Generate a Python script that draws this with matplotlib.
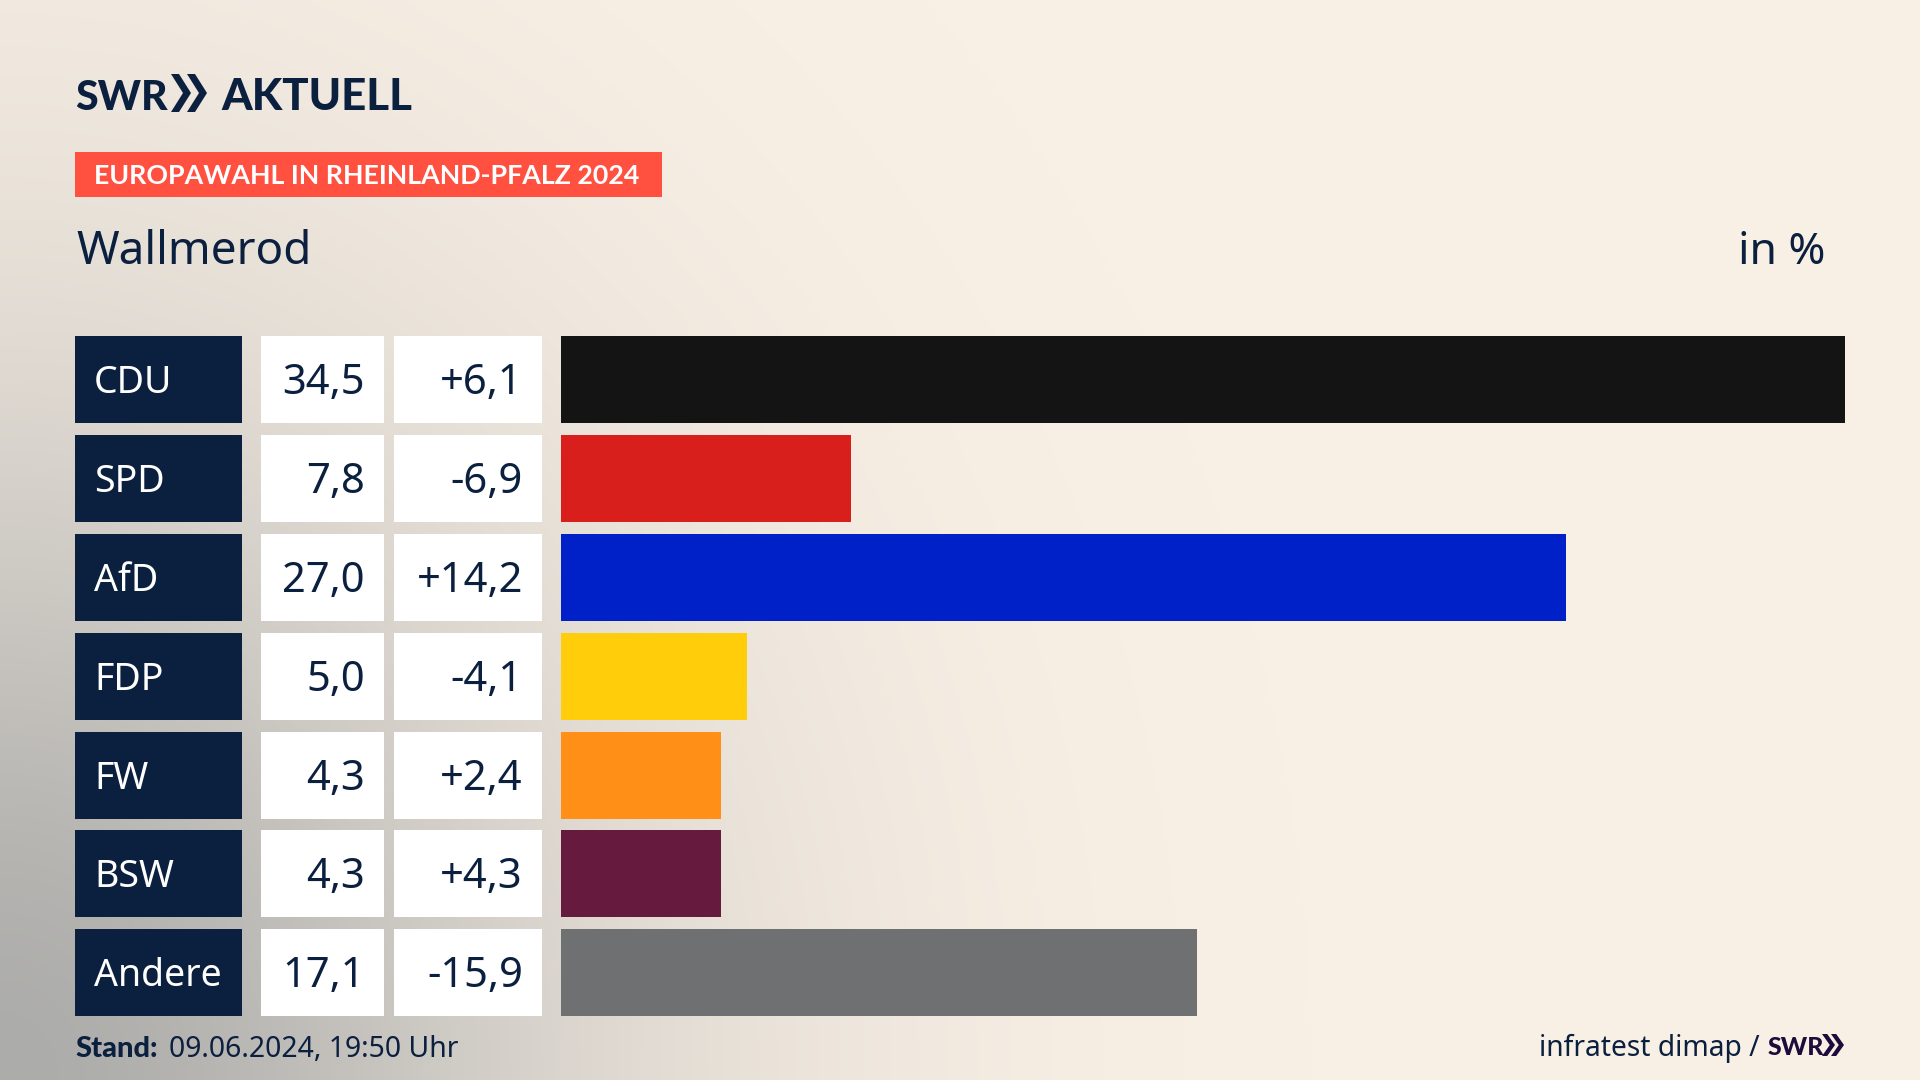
from matplotlib import pyplot as plt
from matplotlib.patches import Polygon
import numpy as np

parties = ["CDU", "SPD", "AfD", "FDP", "FW", "BSW", "Andere"]
shares = [34.5, 7.8, 27.0, 5.0, 4.3, 4.3, 17.1]
changes = [6.1, -6.9, 14.2, -4.1, 2.4, 4.3, -15.9]
colors = ["#141414", "#d81f1c", "#0021c7", "#ffcd0a", "#ff8f16", "#661a3e", "#6f7072"]

NAVY = "#0b1f3f"
W, H = 1920, 1080
plt.rcParams["font.family"] = ["Noto Sans", "DejaVu Sans"]


def de(v, sign=False):
    s = f"{v:+.1f}" if sign else f"{v:.1f}"
    return s.replace(".", ",")


def chevrons(ax, x, top, bottom, w, gap, color):
    # the two arrows of the SWR logo
    mid = (top + bottom) / 2
    for x0 in (x, x + gap):
        pts = [(x0, top), (x0 + w * 0.4, top), (x0 + w, mid), (x0 + w * 0.4, bottom), (x0, bottom), (x0 + w * 0.6, mid)]
        ax.add_patch(Polygon(pts, closed=True, color=color, lw=0))


fig = plt.figure(figsize=(W / 100, H / 100), dpi=100)

# page, background wash from the lower left corner
page = fig.add_axes([0, 0, 1, 1])
yy, xx = np.mgrid[0:H:270j, 0:W:480j]
r = np.sqrt(xx ** 2 + ((H - yy) * 0.86) ** 2)
a = np.exp(-(r / 600) ** 1.8)[..., None]
base = np.array([250, 241, 230]) / 255
gray = np.array([172, 172, 170]) / 255
page.imshow(base * (1 - a) + gray * a, extent=(0, W, H, 0), aspect="auto", interpolation="bilinear")
page.set_xlim(0, W)
page.set_ylim(H, 0)
page.axis("off")

# logo and headings
page.text(75, 110, "SWR", fontsize=29.5, fontweight=900, family="Lato", color=NAVY, va="baseline")
chevrons(page, 171, 74, 112, 20, 16, NAVY)
page.text(221, 110, "AKTUELL", fontsize=31.5, fontweight=900, family="Lato", color=NAVY, va="baseline")
page.fill_between([75, 662], 152, 197, color="#ff5040", lw=0)
page.text(94, 184, "EUROPAWAHL IN RHEINLAND-PFALZ 2024", fontsize=19.3, fontweight="bold", family="Lato", color="white", va="baseline")
page.text(76, 264.5, "Wallmerod", fontsize=33, color=NAVY, va="baseline")
page.text(1825, 264.5, "in %", fontsize=32, color=NAVY, va="baseline", ha="right")

# footer
page.text(75, 1057, "Stand:", fontsize=21, fontweight=900, family="Lato", color=NAVY, va="baseline")
page.text(169, 1057, "09.06.2024, 19:50 Uhr", fontsize=20.4, color=NAVY, va="baseline")
page.text(1539, 1056, "infratest dimap /", fontsize=20.3, color=NAVY, va="baseline")
page.text(1768, 1055, "SWR", fontsize=18, fontweight=900, family="Lato", color="#1f0a3c", va="baseline")
chevrons(page, 1822, 1034, 1056, 13, 9, "#1f0a3c")

# rows share one vertical scale, 98.95 px per party
y = np.arange(len(parties))
top_px, bottom_px = 329.8, 1022.4
ax_pos_y = 1 - bottom_px / H
ax_pos_h = (bottom_px - top_px) / H
px = (bottom_px - top_px) / len(parties)

cells = fig.add_axes([0, ax_pos_y, 1, ax_pos_h])
cells.patch.set_alpha(0)
cells.barh(y, [167] * len(y), left=75, height=87 / px, color=NAVY)
cells.barh(y, [123] * len(y), left=261, height=87 / px, color="white")
cells.barh(y, [148] * len(y), left=394, height=87 / px, color="white")
for i, party in enumerate(parties):
    base_y = i + 14.5 / px
    cells.text(94, base_y - 1 / px, party, fontsize=27, color="white", va="baseline")
    cells.text(365, base_y, de(shares[i]), fontsize=30, color=NAVY, va="baseline", ha="right")
    cells.text(523, base_y, de(changes[i], sign=True), fontsize=30, color=NAVY, va="baseline", ha="right")
cells.set_xlim(0, W)
cells.set_ylim(6.5, -0.5)
cells.axis("off")

# bars, the longest one fills the axes
bars = fig.add_axes([561 / W, ax_pos_y, (1845 - 561) / W, ax_pos_h])
bars.patch.set_alpha(0)
bars.barh(y, shares, height=87 / px, color=colors)
bars.set_xlim(0, max(shares))
bars.set_ylim(6.5, -0.5)
bars.axis("off")

plt.savefig("out.png", dpi=100)
